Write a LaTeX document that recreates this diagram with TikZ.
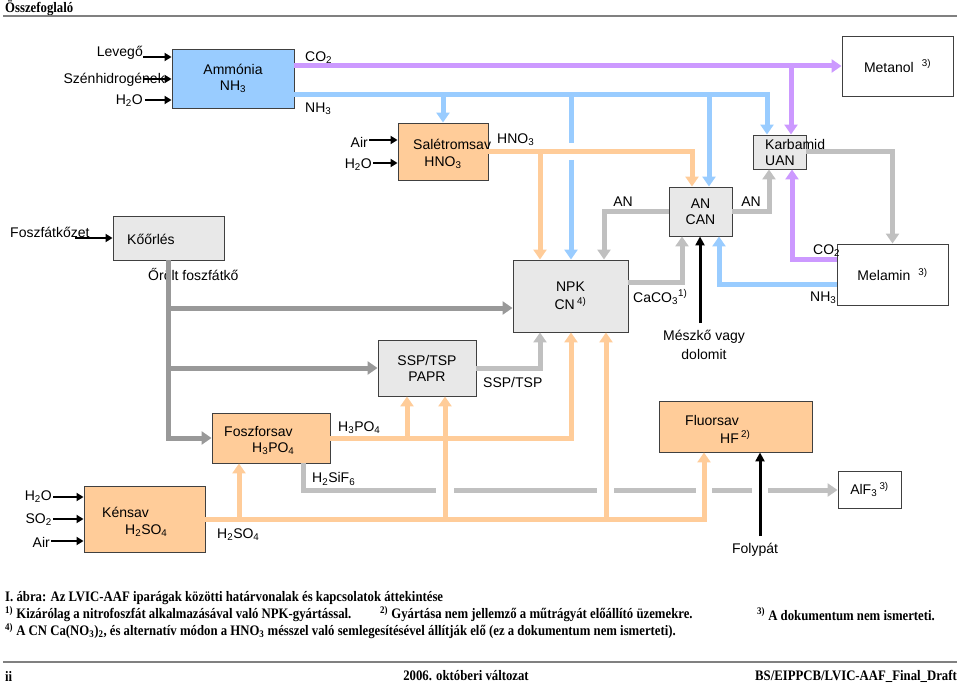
\documentclass[tikz,border=0pt]{standalone}
\usepackage{fontspec}
\setmainfont{Liberation Sans}
\newfontfamily\capfont[FakeStretch=0.88]{Liberation Serif}
\usetikzlibrary{arrows.meta}
\definecolor{cblue}{HTML}{99CCFF}
\definecolor{corange}{HTML}{FFCC99}
\definecolor{cpurple}{HTML}{CC99FF}
\definecolor{clgray}{HTML}{C0C0C0}
\definecolor{cdgray}{HTML}{999999}
\definecolor{cboxgray}{HTML}{E8E8E8}
\definecolor{cborder}{HTML}{404040}
\definecolor{crule}{HTML}{808080}
\newcommand\sbs[1]{\textsubscript{#1}}
\newcommand\sps[1]{\textsuperscript{#1}}
\tikzset{
  boxbase/.style={draw=cborder, line width=0.9pt, inner sep=0pt, align=center},
  bblue/.style={boxbase, fill=cblue},
  borange/.style={boxbase, fill=corange},
  bgray/.style={boxbase, fill=cboxgray},
  bwhite/.style={boxbase, fill=white},
  lbl/.style={inner sep=0pt, align=center},
  flowline/.style={line width=5pt},
  fb/.style={flowline, draw=cblue},
  fo/.style={flowline, draw=corange},
  fp/.style={flowline, draw=cpurple},
  fg/.style={flowline, draw=clgray},
  fd/.style={flowline, draw=cdgray},
  arrtip/.style={-{Triangle[width=13pt,length=10pt]}},
  inarr/.style={line width=2.6pt, -{Triangle[width=8pt,length=7pt]}},
  blkarr/.style={line width=3pt, -{Triangle[width=9pt,length=9pt]}},
  capt/.style={inner sep=0pt, anchor=west, font=\capfont\bfseries\fontsize{14.5}{16}\selectfont},
}
\begin{document}
\begin{tikzpicture}[x=1pt,y=-1pt,font=\fontsize{14}{16}\selectfont]
\useasboundingbox (0,0) rectangle (960,684);
% header
\node[capt] (hdr) at (5,8) {Összefoglaló};
\coordinate (hl1) at (3,16); \coordinate (hl2) at (957,16);
\draw[crule, line width=1.6pt] (hl1) -- (hl2);

% boxes
\node[bblue, minimum width=122pt, minimum height=59pt] (amm) at (233,78.5) {Ammónia\\NH\sbs{3}};
\node[bwhite, minimum width=111pt, minimum height=60pt] (met) at (897.5,66) {Metanol\hspace{8pt}\sps{3)}};
\node[borange, minimum width=90pt, minimum height=57pt] (sal) at (443,151.5) {};
\node[bgray, minimum width=63pt, minimum height=49pt] (ancan) at (700.5,211.5) {AN\\CAN};
\node[bgray, minimum width=53pt, minimum height=34pt] (karb) at (779.5,152) {};
\node[bwhite, minimum width=111pt, minimum height=61pt] (mel) at (892.5,274.5) {Melamin\hspace{8pt}\sps{3)}};
\node[bgray, minimum width=115pt, minimum height=72pt, font=\fontsize{14}{18}\selectfont] (npk) at (570.5,296) {NPK\\CN\,\sps{4)}};
\node[bgray, minimum width=111pt, minimum height=44pt] (koo) at (168.5,238) {};
\node[bgray, minimum width=98pt, minimum height=56pt] (papr) at (427,368) {SSP/TSP\\PAPR};
\node[borange, minimum width=118pt, minimum height=50pt] (fosz) at (271,438) {};
\node[borange, minimum width=121pt, minimum height=66pt] (kens) at (144.5,519) {};
\node[borange, minimum width=153pt, minimum height=51pt] (fluor) at (735.5,426.5) {};
\node[bwhite, minimum width=63pt, minimum height=37pt] (alf) at (869.5,489.5) {AlF\sbs{3}\,\sps{3)}};

% texts inside boxes
\node[lbl, anchor=west] (tsal1) at (413,144) {Salétromsav};
\node[lbl] (tsal2) at (443,163) {HNO\sbs{3}};
\node[lbl, anchor=west] (tkarb1) at (765,144) {Karbamid};
\node[lbl, anchor=west] (tkarb2) at (765,161) {UAN};
\node[lbl, anchor=west] (tkoo) at (127,239) {Kőőrlés};
\node[lbl, anchor=west] (tfosz1) at (224,432) {Foszforsav};
\node[lbl, anchor=west] (tfosz2) at (252,449) {H\sbs{3}PO\sbs{4}};
\node[lbl, anchor=west] (tkens1) at (102,512) {Kénsav};
\node[lbl, anchor=west] (tkens2) at (125,531) {H\sbs{2}SO\sbs{4}};
\node[lbl, anchor=west] (tfl1) at (685,420) {Fluorsav};
\node[lbl, anchor=west] (tfl2) at (720,437) {HF\,\sps{2)}};

% outside labels
\node[lbl, anchor=east] (tlev) at (143,53) {Levegő};
\node[lbl, anchor=east] (tszh) at (165,80) {Szénhidrogének};
\node[lbl, anchor=east] (th2oa) at (143,101) {H\sbs{2}O};
\node[lbl, anchor=west] (tco2a) at (305,58) {CO\sbs{2}};
\node[lbl, anchor=west] (tnh3a) at (305,109) {NH\sbs{3}};
\node[lbl, anchor=east] (tair1) at (368,142) {Air};
\node[lbl, anchor=east] (th2ob) at (372,165) {H\sbs{2}O};
\node[lbl, anchor=west] (thno3) at (497,140) {HNO\sbs{3}};
\node[lbl] (tan1) at (623,202) {AN};
\node[lbl] (tan2) at (751,202) {AN};
\node[lbl, anchor=west] (tco2b) at (813,251) {CO\sbs{2}};
\node[lbl, anchor=west] (tnh3b) at (810,298) {NH\sbs{3}};
\node[lbl, anchor=west] (tcaco) at (633,297) {CaCO\sbs{3}\sps{1)}};
\node[lbl] (tmesz1) at (704,337) {Mészkő vagy};
\node[lbl] (tmesz2) at (704,354) {dolomit};
\node[lbl, anchor=west] (tfk) at (10,232) {Foszfátkőzet};
\node[lbl, anchor=west] (torolt) at (148,274) {Őrölt foszfátkő};
\node[lbl, anchor=west] (tssp) at (483,382) {SSP/TSP};
\node[lbl, anchor=west] (th3po4) at (338,428) {H\sbs{3}PO\sbs{4}};
\node[lbl, anchor=west] (th2sif6) at (312,479) {H\sbs{2}SiF\sbs{6}};
\node[lbl, anchor=west] (th2so4) at (217,535) {H\sbs{2}SO\sbs{4}};
\node[lbl] (tfoly) at (755,550) {Folypát};
\node[lbl, anchor=east] (th2oc) at (52,497) {H\sbs{2}O};
\node[lbl, anchor=east] (tso2) at (52,520) {SO\sbs{2}};
\node[lbl, anchor=east] (tair2) at (50,542) {Air};

% junction coordinates
\coordinate (jp1) at (791,66);
\coordinate (jp2) at (792,260);
\coordinate (jb1) at (443,95);
\coordinate (jb2) at (571,95);
\coordinate (jb2a) at (571,143);
\coordinate (jb2b) at (571,160);
\coordinate (jb3) at (709,95);
\coordinate (jb4) at (767,95);
\coordinate (jb5) at (719,285);
\coordinate (jo1) at (540,151.5);
\coordinate (jo2) at (692,151.5);
\coordinate (jo3) at (407,438);
\coordinate (jo4) at (571,438);
\coordinate (jo5) at (239,519);
\coordinate (jo6) at (445,519);
\coordinate (jo7) at (606,519);
\coordinate (jo8) at (704,519);
\coordinate (jg1) at (604,211.5);
\coordinate (jg2) at (769,211.5);
\coordinate (jg3) at (892.5,152);
\coordinate (jg4) at (682,283);
\coordinate (jg5) at (540,368);
\coordinate (jd1) at (168.5,308);
\coordinate (jd2) at (168.5,368);
\coordinate (jd3) at (168.5,438);
\coordinate (js1) at (303,490);
\coordinate (js2) at (436,490);
\coordinate (js3) at (454,490);
\coordinate (js4) at (597,490);
\coordinate (js5) at (614,490);
\coordinate (js6) at (696,490);
\coordinate (js7) at (712,490);
\coordinate (js8) at (752,490);
\coordinate (js9) at (768,490);
\coordinate (mesz) at (700,323);
\coordinate (foly) at (760,536);

% purple
\draw[fp, arrtip] ([yshift=12.5pt]amm.east) -- (met.west);
\draw[fp, arrtip] (jp1) -- (jp1 |- karb.north);
\draw[fp, arrtip] ([yshift=14.5pt]mel.west) -- (jp2) -- (jp2 |- karb.south);
% blue
\draw[fb, arrtip] ([yshift=-16.5pt]amm.east) -- (jb4) -- (jb4 |- karb.north);
\draw[fb, arrtip] (jb1) -- (sal.north);
\draw[fb] (jb2) -- (jb2a);
\draw[fb, arrtip] (jb2b) -- (jb2b |- npk.north);
\draw[fb, arrtip] (jb3) -- (jb3 |- ancan.north);
\draw[fb, arrtip] ([yshift=-10.5pt]mel.west) -- (jb5) -- (jb5 |- ancan.south);
% orange HNO3
\draw[fo, arrtip] (sal.east) -- (jo2) -- (jo2 |- ancan.north);
\draw[fo, arrtip] (jo1) -- (jo1 |- npk.north);
% light gray
\draw[fg, arrtip] (ancan.west) -- (jg1) -- (jg1 |- npk.north);
\draw[fg, arrtip] (ancan.east) -- (jg2) -- (jg2 |- karb.south);
\draw[fg, arrtip] (karb.east) -- (jg3) -- (mel.north);
\draw[fg, arrtip] ([yshift=13pt]npk.east) -- (jg4) -- (jg4 |- ancan.south);
\draw[fg, arrtip] (papr.east) -- (jg5) -- (jg5 |- npk.south);
% dark gray
\draw[fd, arrtip] (koo.south) -- (jd3) -- (fosz.west);
\draw[fd, arrtip] (jd1) -- (jd1 -| npk.west);
\draw[fd, arrtip] (jd2) -- (papr.west);
% orange H3PO4 / H2SO4
\draw[fo, arrtip] (fosz.east) -- (jo4) -- (jo4 |- npk.south);
\draw[fo, arrtip] (jo3) -- (jo3 |- papr.south);
\draw[fo, arrtip] (kens.east) -- (jo8) -- (jo8 |- fluor.south);
\draw[fo, arrtip] (jo5) -- (jo5 |- fosz.south);
\draw[fo, arrtip] (jo6) -- (jo6 |- papr.south);
\draw[fo, arrtip] (jo7) -- (jo7 |- npk.south);
% H2SiF6
\draw[fg] ([xshift=32pt]fosz.south) -- (js1) -- (js2);
\draw[fg] (js3) -- (js4);
\draw[fg] (js5) -- (js6);
\draw[fg] (js7) -- (js8);
\draw[fg, arrtip] (js9) -- (js9 -| alf.west);
% black arrows
\coordinate (ia1) at (143,57);
\coordinate (ia2) at (143,79);
\coordinate (ia3) at (145,100);
\coordinate (ia4) at (369,140);
\coordinate (ia5) at (373,163);
\coordinate (ia6) at (75,238);
\coordinate (ia7) at (53,497);
\coordinate (ia8) at (53,519);
\coordinate (ia9) at (51,541);
\draw[inarr] (ia1) -- (ia1 -| amm.west);
\draw[inarr] (ia2) -- (ia2 -| amm.west);
\draw[inarr] (ia3) -- (ia3 -| amm.west);
\draw[inarr] (ia4) -- (ia4 -| sal.west);
\draw[inarr] (ia5) -- (ia5 -| sal.west);
\draw[inarr] (ia6) -- (ia6 -| koo.west);
\draw[inarr] (ia7) -- (ia7 -| kens.west);
\draw[inarr] (ia8) -- (ia8 -| kens.west);
\draw[inarr] (ia9) -- (ia9 -| kens.west);
\draw[blkarr] (mesz) -- (mesz |- ancan.south);
\draw[blkarr] (foly) -- (foly |- fluor.south);

% captions
\node[capt] (c1) at (5,598) {I. ábra: Az LVIC-AAF iparágak közötti határvonalak és kapcsolatok áttekintése};
\node[capt] (c2a) at (5,614) {\sps{1)} Kizárólag a nitrofoszfát alkalmazásával való NPK-gyártással.};
\node[capt] (c2b) at (380,614) {\sps{2)} Gyártása nem jellemző a műtrágyát előállító üzemekre.};
\node[capt] (c2c) at (757,614) {\sps{3)} A dokumentum nem ismerteti.};
\node[capt] (c3) at (5,631) {\sps{4)} A CN Ca(NO\sbs{3})\sbs{2}, és alternatív módon a HNO\sbs{3} mésszel való semlegesítésével állítják elő (ez a dokumentum nem ismerteti).};
\coordinate (fl1) at (3,662); \coordinate (fl2) at (957,662);
\draw[crule, line width=2pt] (fl1) -- (fl2);
\node[capt] (f1) at (5,676) {ii};
\node[capt, anchor=center] (f2) at (466,676) {2006. októberi változat};
\node[capt, anchor=east] (f3) at (957,676) {BS/EIPPCB/LVIC-AAF\_Final\_Draft};
\end{tikzpicture}
\end{document}
